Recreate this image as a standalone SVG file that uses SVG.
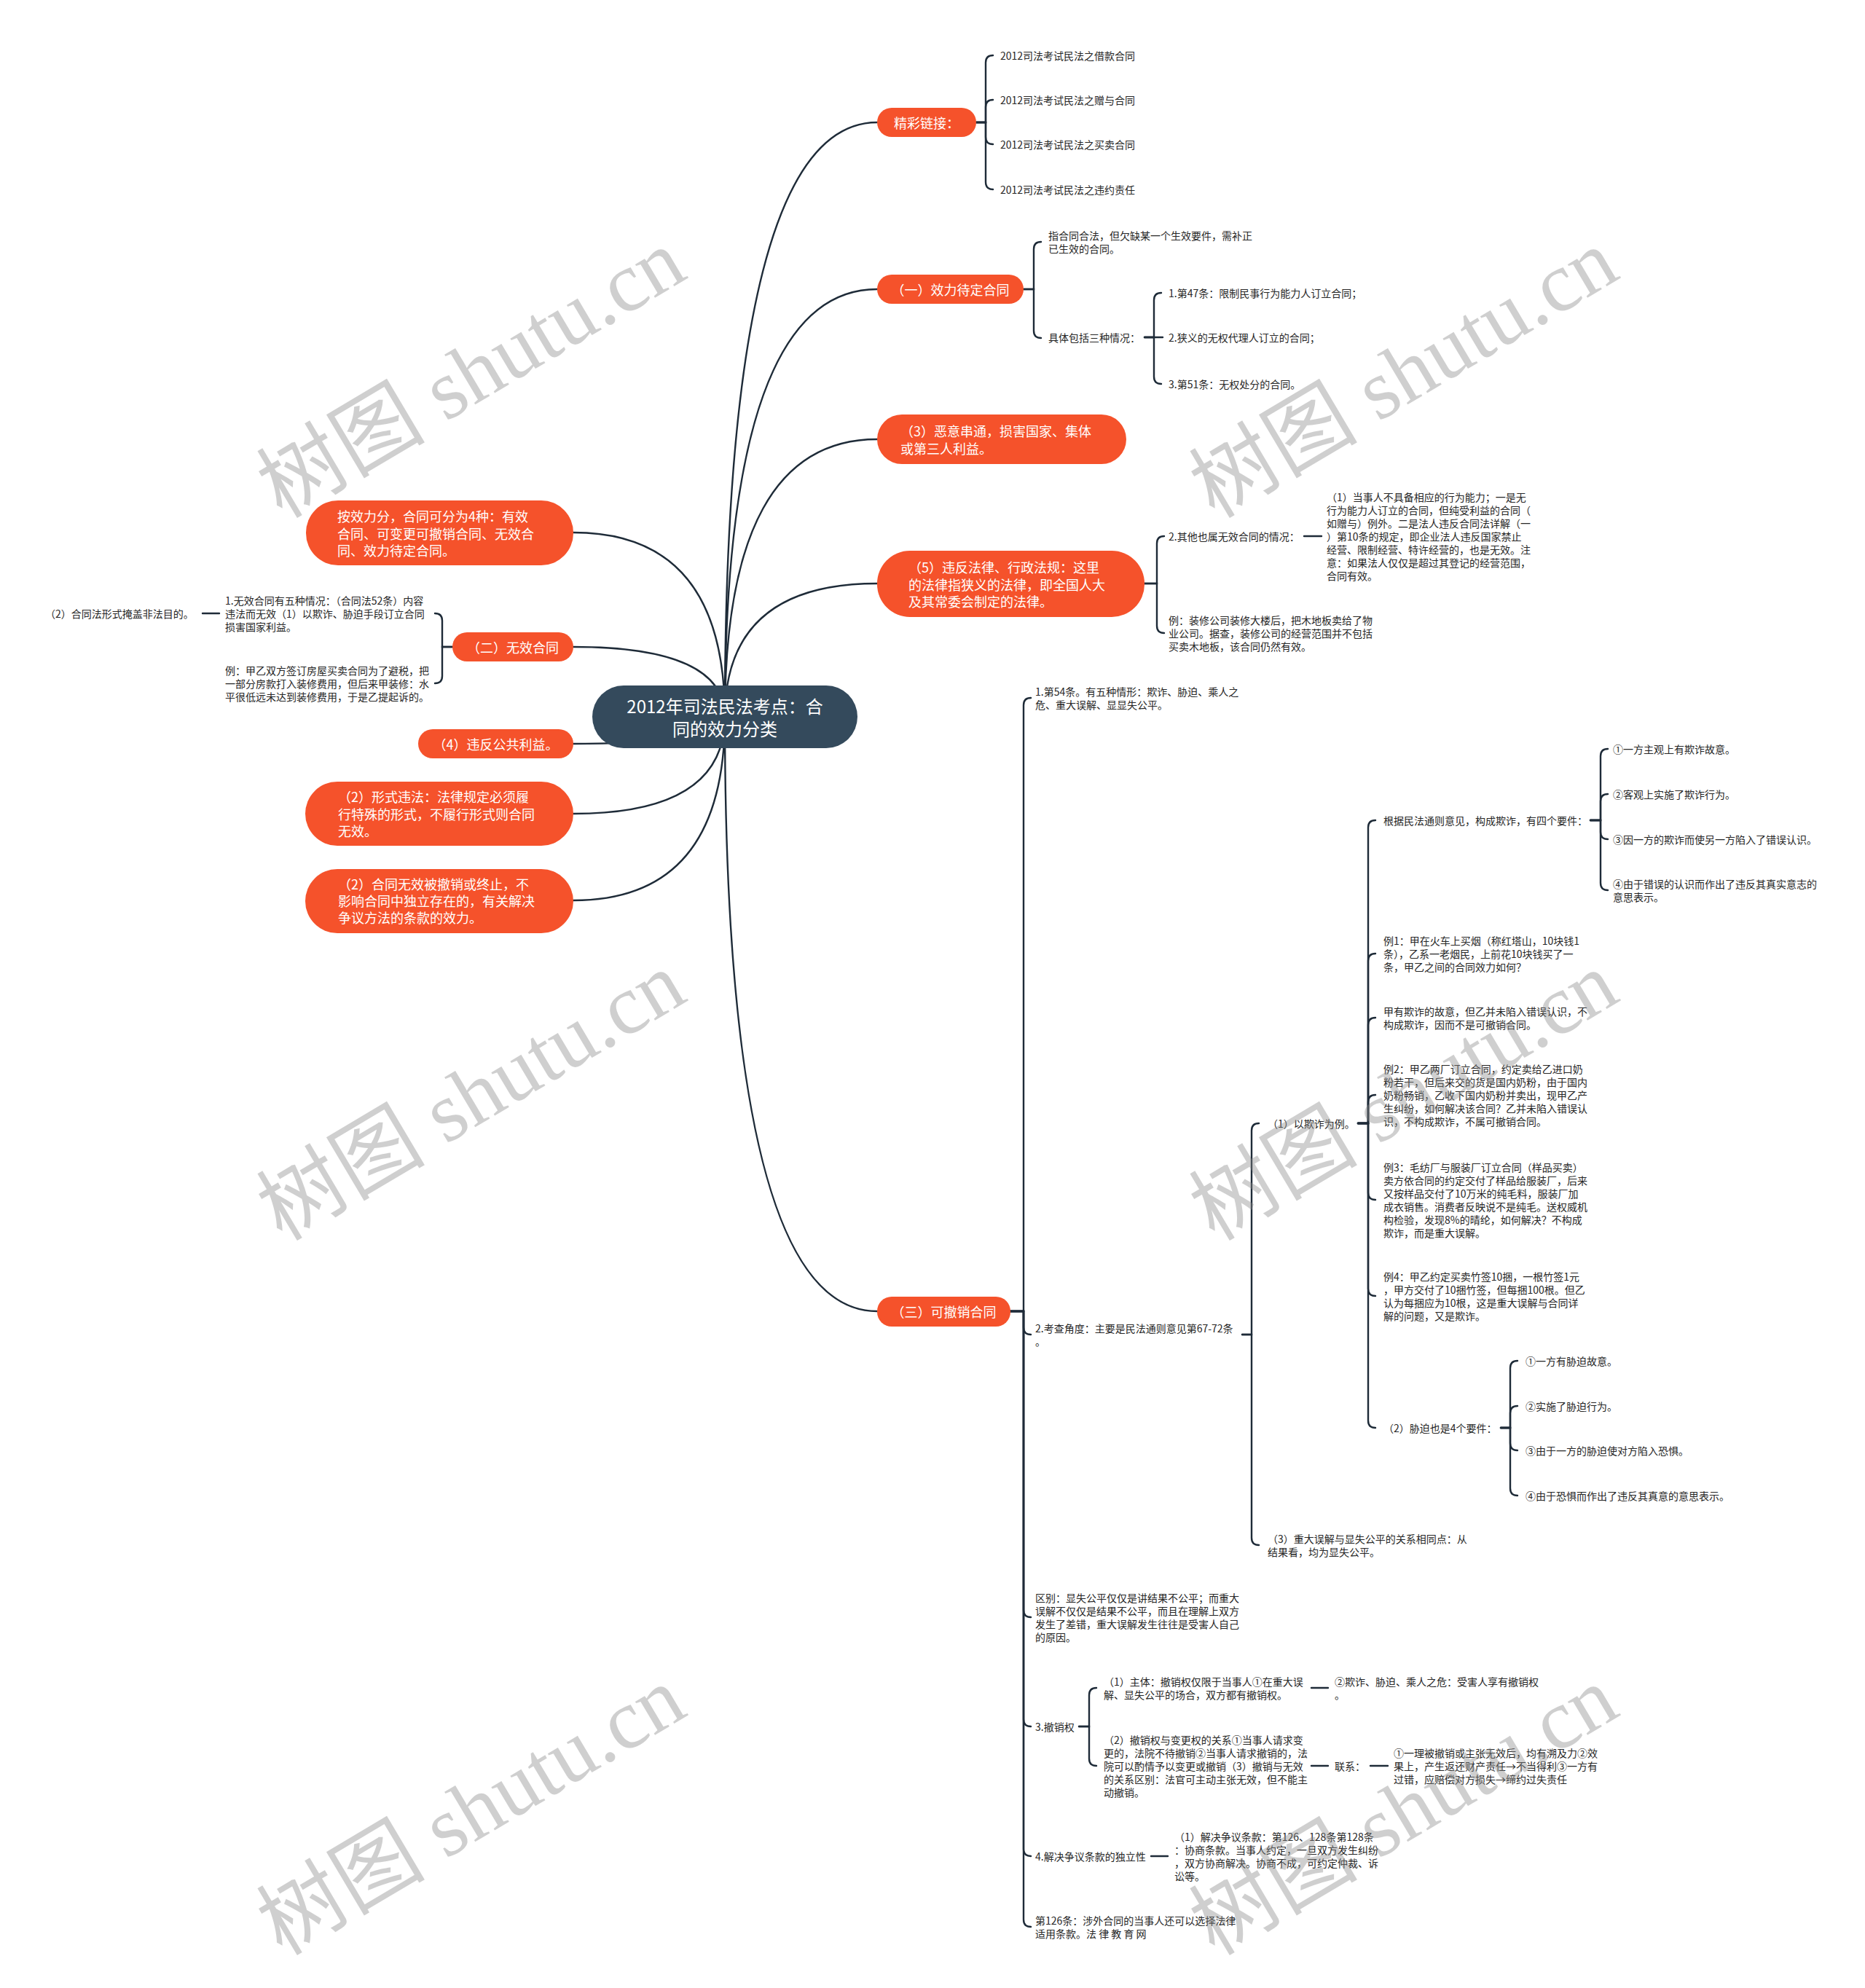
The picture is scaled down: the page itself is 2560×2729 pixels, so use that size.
<svg xmlns="http://www.w3.org/2000/svg" width="2560" height="2729" viewBox="0 0 2560 2729">
<style>
.n{fill:#f5522b}
.c{fill:#344a5c}
.nt{font-family:"Noto Sans CJK SC","Liberation Sans",sans-serif;font-size:18px;fill:#ffffff;dominant-baseline:central}
.ct{font-family:"Noto Sans CJK SC","Liberation Sans",sans-serif;font-size:24px;fill:#ffffff;dominant-baseline:central;text-anchor:middle}
.mid{text-anchor:middle}
.t{font-family:"Noto Sans CJK SC","Liberation Sans",sans-serif;font-size:14px;fill:#262626;dominant-baseline:central}
.l{fill:none;stroke:#1e2b38;stroke-width:2.4;stroke-linecap:round}
.wm{font-family:"Liberation Serif","Noto Sans CJK SC",serif;font-size:116px;fill:#8a8a8a;opacity:0.4;text-anchor:middle;dominant-baseline:central}
</style>
<rect x="0" y="0" width="2560" height="2729" fill="#ffffff"/>
<g id="connectors">
<path class="l" d="M995,984 Q995,168 1204,168"/>
<path class="l" d="M995,984 Q995,397 1204,397"/>
<path class="l" d="M995,984 Q995,603 1204,603"/>
<path class="l" d="M995,984 Q995,801 1204,801"/>
<path class="l" d="M995,984 Q995,1800 1204,1800"/>
<path class="l" d="M995,984 Q995,731 787,731"/>
<path class="l" d="M995,984 Q995,888 787,888"/>
<path class="l" d="M995,984 Q995,1021 787,1021"/>
<path class="l" d="M995,984 Q995,1117 787,1117"/>
<path class="l" d="M995,984 Q995,1236 787,1236"/>
<path class="l" d="M1340,168 H1353 V86 Q1353,76 1363,76"/>
<path class="l" d="M1340,168 H1353 V147 Q1353,137 1363,137"/>
<path class="l" d="M1340,168 H1353 V188 Q1353,198 1363,198"/>
<path class="l" d="M1340,168 H1353 V250 Q1353,260 1363,260"/>
<path class="l" d="M1405,397 H1419 V342 Q1419,332 1429,332"/>
<path class="l" d="M1405,397 H1419 V454 Q1419,464 1429,464"/>
<path class="l" d="M1571,463 H1584 V412 Q1584,402 1594,402"/>
<path class="l" d="M1571,463 H1596"/>
<path class="l" d="M1571,463 H1584 V517 Q1584,527 1594,527"/>
<path class="l" d="M1571,801 H1588 V746 Q1588,736 1598,736"/>
<path class="l" d="M1571,801 H1588 V859 Q1588,869 1598,869"/>
<path class="l" d="M1790,736 H1814"/>
<path class="l" d="M621,888 H607 V852 Q607,842 597,842"/>
<path class="l" d="M621,888 H607 V928 Q607,938 597,938"/>
<path class="l" d="M278,842 H301"/>
<path class="l" d="M1386,1800 H1405 V968 Q1405,958 1415,958"/>
<path class="l" d="M1386,1800 H1405 V1822 Q1405,1832 1415,1832"/>
<path class="l" d="M1386,1800 H1405 V2210 Q1405,2220 1415,2220"/>
<path class="l" d="M1386,1800 H1405 V2360 Q1405,2370 1415,2370"/>
<path class="l" d="M1386,1800 H1405 V2538 Q1405,2548 1415,2548"/>
<path class="l" d="M1386,1800 H1405 V2635 Q1405,2645 1415,2645"/>
<path class="l" d="M1705,1832 H1718 V1552 Q1718,1542 1728,1542"/>
<path class="l" d="M1705,1832 H1718 V2111 Q1718,2121 1728,2121"/>
<path class="l" d="M1864,1542 H1878 V1136 Q1878,1126 1888,1126"/>
<path class="l" d="M1864,1542 H1878 V1319 Q1878,1309 1888,1309"/>
<path class="l" d="M1864,1542 H1878 V1407 Q1878,1397 1888,1397"/>
<path class="l" d="M1864,1542 H1878 V1513 Q1878,1503 1888,1503"/>
<path class="l" d="M1864,1542 H1878 V1637 Q1878,1647 1888,1647"/>
<path class="l" d="M1864,1542 H1878 V1769 Q1878,1779 1888,1779"/>
<path class="l" d="M1864,1542 H1878 V1950 Q1878,1960 1888,1960"/>
<path class="l" d="M2183,1126 H2197 V1038 Q2197,1028 2207,1028"/>
<path class="l" d="M2183,1126 H2197 V1100 Q2197,1090 2207,1090"/>
<path class="l" d="M2183,1126 H2197 V1142 Q2197,1152 2207,1152"/>
<path class="l" d="M2183,1126 H2197 V1212 Q2197,1222 2207,1222"/>
<path class="l" d="M2060,1960 H2073 V1878 Q2073,1868 2083,1868"/>
<path class="l" d="M2060,1960 H2073 V1940 Q2073,1930 2083,1930"/>
<path class="l" d="M2060,1960 H2073 V1981 Q2073,1991 2083,1991"/>
<path class="l" d="M2060,1960 H2073 V2043 Q2073,2053 2083,2053"/>
<path class="l" d="M1481,2370 H1495 V2327 Q1495,2317 1505,2317"/>
<path class="l" d="M1481,2370 H1495 V2414 Q1495,2424 1505,2424"/>
<path class="l" d="M1800,2317 H1823"/>
<path class="l" d="M1800,2424 H1823"/>
<path class="l" d="M1881,2424 H1905"/>
<path class="l" d="M1580,2548 H1603"/>
</g>
<g id="center">
<rect class="c" x="813" y="941" width="364" height="86" rx="43"/>
<text class="ct"><tspan x="995" y="968">2012年司法民法考点：合</tspan><tspan x="995" y="999">同的效力分类</tspan></text>
</g>
<g id="n-links">
<rect class="n" x="1204" y="148" width="136" height="40" rx="20"/>
<text class="nt mid" x="1272" y="168">精彩链接：</text>
</g>
<g id="n-pending">
<rect class="n" x="1204" y="377" width="201" height="40" rx="20"/>
<text class="nt mid" x="1304.5" y="397">（一）效力待定合同</text>
</g>
<g id="n-collusion">
<rect class="n" x="1204" y="569" width="342" height="68" rx="34"/>
<text class="nt"><tspan x="1236" y="591">（3）恶意串通，损害国家、集体</tspan><tspan x="1236" y="615">或第三人利益。</tspan></text>
</g>
<g id="n-law">
<rect class="n" x="1204" y="756" width="367" height="91" rx="45"/>
<text class="nt"><tspan x="1247" y="778">（5）违反法律、行政法规：这里</tspan><tspan x="1247" y="802">的法律指狭义的法律，即全国人大</tspan><tspan x="1247" y="825">及其常委会制定的法律。</tspan></text>
</g>
<g id="n-revocable">
<rect class="n" x="1204" y="1780" width="183" height="41" rx="20"/>
<text class="nt mid" x="1295.5" y="1800">（三）可撤销合同</text>
</g>
<g id="n-types">
<rect class="n" x="420" y="687" width="367" height="89" rx="44"/>
<text class="nt"><tspan x="463" y="708">按效力分，合同可分为4种：有效</tspan><tspan x="463" y="732">合同、可变更可撤销合同、无效合</tspan><tspan x="463" y="755">同、效力待定合同。</tspan></text>
</g>
<g id="n-void">
<rect class="n" x="621" y="868" width="166" height="40" rx="20"/>
<text class="nt mid" x="704" y="888">（二）无效合同</text>
</g>
<g id="n-public">
<rect class="n" x="574" y="1001" width="213" height="40" rx="20"/>
<text class="nt mid" x="680.5" y="1021">（4）违反公共利益。</text>
</g>
<g id="n-form">
<rect class="n" x="419" y="1073" width="368" height="88" rx="44"/>
<text class="nt"><tspan x="464" y="1093">（2）形式违法：法律规定必须履</tspan><tspan x="464" y="1117">行特殊的形式，不履行形式则合同</tspan><tspan x="464" y="1140">无效。</tspan></text>
</g>
<g id="n-dispute">
<rect class="n" x="419" y="1193" width="368" height="88" rx="44"/>
<text class="nt"><tspan x="464" y="1213">（2）合同无效被撤销或终止，不</tspan><tspan x="464" y="1236">影响合同中独立存在的，有关解决</tspan><tspan x="464" y="1259">争议方法的条款的效力。</tspan></text>
</g>
<g id="leaf-links">
<text class="t" x="1373" y="76">2012司法考试民法之借款合同</text>
<text class="t" x="1373" y="137">2012司法考试民法之赠与合同</text>
<text class="t" x="1373" y="198">2012司法考试民法之买卖合同</text>
<text class="t" x="1373" y="260">2012司法考试民法之违约责任</text>
</g>
<g id="leaf-pending">
<text class="t"><tspan x="1439" y="323">指合同合法，但欠缺某一个生效要件，需补正</tspan><tspan x="1439" y="341">已生效的合同。</tspan></text>
<text class="t" x="1439" y="463">具体包括三种情况：</text>
<text class="t" x="1604" y="402">1.第47条：限制民事行为能力人订立合同；</text>
<text class="t" x="1604" y="463">2.狭义的无权代理人订立的合同；</text>
<text class="t" x="1604" y="527">3.第51条：无权处分的合同。</text>
</g>
<g id="leaf-law">
<text class="t" x="1604" y="736">2.其他也属无效合同的情况：</text>
<text class="t"><tspan x="1821" y="682">（1）当事人不具备相应的行为能力；一是无</tspan><tspan x="1821" y="700">行为能力人订立的合同，但纯受利益的合同（</tspan><tspan x="1821" y="718">如赠与）例外。二是法人违反合同法详解（一</tspan><tspan x="1821" y="736">）第10条的规定，即企业法人违反国家禁止</tspan><tspan x="1821" y="754">经营、限制经营、特许经营的，也是无效。注</tspan><tspan x="1821" y="772">意：如果法人仅仅是超过其登记的经营范围，</tspan><tspan x="1821" y="790">合同有效。</tspan></text>
<text class="t"><tspan x="1604" y="851">例：装修公司装修大楼后，把木地板卖给了物</tspan><tspan x="1604" y="869">业公司。据查，装修公司的经营范围并不包括</tspan><tspan x="1604" y="887">买卖木地板，该合同仍然有效。</tspan></text>
</g>
<g id="leaf-void">
<text class="t"><tspan x="309" y="824">1.无效合同有五种情况：（合同法52条）内容</tspan><tspan x="309" y="842">违法而无效（1）以欺诈、胁迫手段订立合同</tspan><tspan x="309" y="860">损害国家利益。</tspan></text>
<text class="t"><tspan x="309" y="920">例：甲乙双方签订房屋买卖合同为了避税，把</tspan><tspan x="309" y="938">一部分房款打入装修费用，但后来甲装修：水</tspan><tspan x="309" y="956">平很低远未达到装修费用，于是乙提起诉的。</tspan></text>
<text class="t" x="62" y="842">（2）合同法形式掩盖非法目的。</text>
</g>
<g id="leaf-revocable">
<text class="t"><tspan x="1421" y="949">1.第54条。有五种情形：欺诈、胁迫、乘人之</tspan><tspan x="1421" y="967">危、重大误解、显显失公平。</tspan></text>
<text class="t"><tspan x="1421" y="1823">2.考查角度：主要是民法通则意见第67-72条</tspan><tspan x="1421" y="1841">。</tspan></text>
<text class="t"><tspan x="1421" y="2193">区别：显失公平仅仅是讲结果不公平；而重大</tspan><tspan x="1421" y="2211">误解不仅仅是结果不公平，而且在理解上双方</tspan><tspan x="1421" y="2229">发生了差错，重大误解发生往往是受害人自己</tspan><tspan x="1421" y="2247">的原因。</tspan></text>
<text class="t" x="1421" y="2370">3.撤销权</text>
<text class="t" x="1421" y="2548">4.解决争议条款的独立性</text>
<text class="t"><tspan x="1421" y="2636">第126条：涉外合同的当事人还可以选择法律</tspan><tspan x="1421" y="2654">适用条款。法 律 教 育 网</tspan></text>
</g>
<g id="leaf-angle">
<text class="t" x="1740" y="1542">（1）以欺诈为例。</text>
<text class="t"><tspan x="1740" y="2112">（3）重大误解与显失公平的关系相同点：从</tspan><tspan x="1740" y="2130">结果看，均为显失公平。</tspan></text>
</g>
<g id="leaf-fraud">
<text class="t" x="1899" y="1126">根据民法通则意见，构成欺诈，有四个要件：</text>
<text class="t"><tspan x="1899" y="1291">例1：甲在火车上买烟（称红塔山，10块钱1</tspan><tspan x="1899" y="1309">条），乙系一老烟民，上前花10块钱买了一</tspan><tspan x="1899" y="1327">条，甲乙之间的合同效力如何？</tspan></text>
<text class="t"><tspan x="1899" y="1388">甲有欺诈的故意，但乙并未陷入错误认识，不</tspan><tspan x="1899" y="1406">构成欺诈，因而不是可撤销合同。</tspan></text>
<text class="t"><tspan x="1899" y="1467">例2：甲乙两厂订立合同，约定卖给乙进口奶</tspan><tspan x="1899" y="1485">粉若干，但后来交的货是国内奶粉，由于国内</tspan><tspan x="1899" y="1503">奶粉畅销，乙收下国内奶粉并卖出，现甲乙产</tspan><tspan x="1899" y="1521">生纠纷，如何解决该合同？乙并未陷入错误认</tspan><tspan x="1899" y="1539">识，不构成欺诈，不属可撤销合同。</tspan></text>
<text class="t"><tspan x="1899" y="1602">例3：毛纺厂与服装厂订立合同（样品买卖）</tspan><tspan x="1899" y="1620">卖方依合同的约定交付了样品给服装厂，后来</tspan><tspan x="1899" y="1638">又按样品交付了10万米的纯毛料，服装厂加</tspan><tspan x="1899" y="1656">成衣销售。消费者反映说不是纯毛。送权威机</tspan><tspan x="1899" y="1674">构检验，发现8%的晴纶，如何解决？不构成</tspan><tspan x="1899" y="1692">欺诈，而是重大误解。</tspan></text>
<text class="t"><tspan x="1899" y="1752">例4：甲乙约定买卖竹签10捆，一根竹签1元</tspan><tspan x="1899" y="1770">，甲方交付了10捆竹签，但每捆100根。但乙</tspan><tspan x="1899" y="1788">认为每捆应为10根，这是重大误解与合同详</tspan><tspan x="1899" y="1806">解的问题，又是欺诈。</tspan></text>
<text class="t" x="1899" y="1960">（2）胁迫也是4个要件：</text>
<text class="t" x="2214" y="1028">①一方主观上有欺诈故意。</text>
<text class="t" x="2214" y="1090">②客观上实施了欺诈行为。</text>
<text class="t" x="2214" y="1152">③因一方的欺诈而使另一方陷入了错误认识。</text>
<text class="t"><tspan x="2214" y="1213">④由于错误的认识而作出了违反其真实意志的</tspan><tspan x="2214" y="1231">意思表示。</tspan></text>
<text class="t" x="2094" y="1868">①一方有胁迫故意。</text>
<text class="t" x="2094" y="1930">②实施了胁迫行为。</text>
<text class="t" x="2094" y="1991">③由于一方的胁迫使对方陷入恐惧。</text>
<text class="t" x="2094" y="2053">④由于恐惧而作出了违反其真意的意思表示。</text>
</g>
<g id="leaf-right">
<text class="t"><tspan x="1515" y="2308">（1）主体：撤销权仅限于当事人①在重大误</tspan><tspan x="1515" y="2326">解、显失公平的场合，双方都有撤销权。</tspan></text>
<text class="t"><tspan x="1832" y="2308">②欺诈、胁迫、乘人之危：受害人享有撤销权</tspan><tspan x="1832" y="2326">。</tspan></text>
<text class="t"><tspan x="1515" y="2388">（2）撤销权与变更权的关系①当事人请求变</tspan><tspan x="1515" y="2406">更的，法院不待撤销②当事人请求撤销的，法</tspan><tspan x="1515" y="2424">院可以酌情予以变更或撤销（3）撤销与无效</tspan><tspan x="1515" y="2442">的关系区别：法官可主动主张无效，但不能主</tspan><tspan x="1515" y="2460">动撤销。</tspan></text>
<text class="t" x="1832" y="2424">联系：</text>
<text class="t"><tspan x="1913" y="2406">①一理被撤销或主张无效后，均有溯及力②效</tspan><tspan x="1913" y="2424">果上，产生返还财产责任→不当得利③一方有</tspan><tspan x="1913" y="2442">过错，应赔偿对方损失→缔约过失责任</tspan></text>
<text class="t"><tspan x="1612" y="2521">（1）解决争议条款：第126、128条第128条</tspan><tspan x="1612" y="2539">：协商条款。当事人约定，一旦双方发生纠纷</tspan><tspan x="1612" y="2557">，双方协商解决。协商不成，可约定仲裁、诉</tspan><tspan x="1612" y="2575">讼等。</tspan></text>
</g>
<g id="watermarks">
<text class="wm" transform="translate(647,513) rotate(-30.7)">树图 shutu.cn</text>
<text class="wm" transform="translate(1927,513) rotate(-30.7)">树图 shutu.cn</text>
<text class="wm" transform="translate(647,1505) rotate(-30.7)">树图 shutu.cn</text>
<text class="wm" transform="translate(1927,1505) rotate(-30.7)">树图 shutu.cn</text>
<text class="wm" transform="translate(647,2486) rotate(-30.7)">树图 shutu.cn</text>
<text class="wm" transform="translate(1927,2486) rotate(-30.7)">树图 shutu.cn</text>
</g>
</svg>
